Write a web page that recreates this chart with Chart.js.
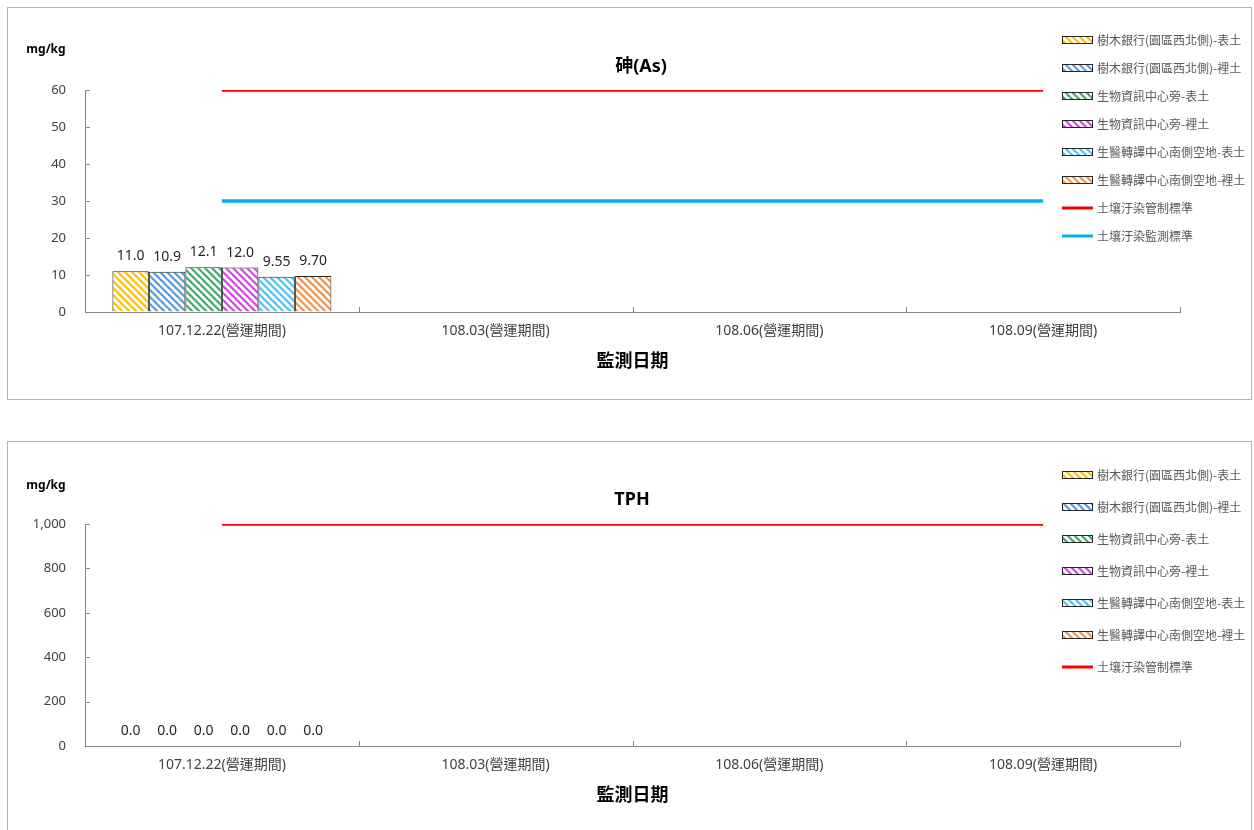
<!DOCTYPE html>
<html>
<head>
<meta charset="utf-8">
<script src="https://cdn.jsdelivr.net/npm/chart.js@4/dist/chart.umd.min.js"></script>
<style>
  html, body { margin: 0; padding: 0; background: #fff; width: 1254px; height: 830px; overflow: hidden; }
  .box { position: absolute; left: 7px; width: 1245px; height: 393px; box-sizing: border-box; border: 1px solid #b4b4b4; }
  canvas { position: absolute; left: 7px; }
</style>
</head>
<body>
<div class="box" style="top:7px"></div>
<div class="box" style="top:441px"></div>
<canvas id="c1" width="1245" height="393" style="top:7px"></canvas>
<canvas id="c2" width="1245" height="393" style="top:441px"></canvas>
<script>
// ---------- data ----------
const categories = ['107.12.22(營運期間)', '108.03(營運期間)', '108.06(營運期間)', '108.09(營運期間)'];
const seriesNames = ['樹木銀行(園區西北側)-表土', '樹木銀行(園區西北側)-裡土', '生物資訊中心旁-表土', '生物資訊中心旁-裡土', '生醫轉譯中心南側空地-表土', '生醫轉譯中心南側空地-裡土'];
const asValues = [11.0, 10.9, 12.1, 12.0, 9.55, 9.70];
const asLabels = ['11.0', '10.9', '12.1', '12.0', '9.55', '9.70'];
const tphValues = [0, 0, 0, 0, 0, 0];
const tphLabels = ['0.0', '0.0', '0.0', '0.0', '0.0', '0.0'];
const controlName = '土壤汙染管制標準';
const monitorName = '土壤汙染監測標準';
const asControl = [60, 60, 60, 60];
const asMonitor = [30, 30, 30, 30];
const tphControl = [1000, 1000, 1000, 1000];
const asYTicks = [0, 10, 20, 30, 40, 50, 60];
const tphYTicks = [0, 200, 400, 600, 800, 1000];

// ---------- styles ----------
const barColors = ['#FFC000', '#5B9BD5', '#3DAA6B', '#D048DC', '#4FC3F0', '#F0924A'];
const FONT = "'Noto Sans', 'Noto Sans CJK TC', sans-serif";
const LEGFONT = "'Noto Sans CJK TC', 'Noto Sans', sans-serif";

function stripe(color) {
  const s = 7;
  const c = document.createElement('canvas');
  c.width = s; c.height = s;
  const x = c.getContext('2d');
  x.fillStyle = '#fff'; x.fillRect(0, 0, s, s);
  x.strokeStyle = color; x.lineWidth = 2.2; x.lineCap = 'square';
  for (const k of [-s, 0, s]) {
    x.beginPath(); x.moveTo(k - 1, -1); x.lineTo(k + s + 1, s + 1); x.stroke();
  }
  return x.createPattern(c, 'repeat');
}

const chartDeco = {
  id: 'chartDeco',
  afterDraw(chart, args, o) {
    const ctx = chart.ctx;
    const ca = chart.chartArea;
    const ys = chart.scales.y;
    ctx.save();
    // inside tick marks
    ctx.strokeStyle = '#868686'; ctx.lineWidth = 1;
    ys.ticks.forEach(t => {
      const y = Math.round(ys.getPixelForValue(t.value)) + 0.5;
      ctx.beginPath(); ctx.moveTo(ca.left, y); ctx.lineTo(ca.left + 5, y); ctx.stroke();
    });
    const n = categories.length;
    for (let i = 1; i <= n; i++) {
      const x = Math.round(ca.left + (ca.right - ca.left) * i / n) + 0.5;
      ctx.beginPath(); ctx.moveTo(x, ca.bottom); ctx.lineTo(x, ca.bottom - 5); ctx.stroke();
    }
    // data labels
    ctx.fillStyle = '#262626';
    ctx.font = '14px ' + FONT;
    ctx.textAlign = 'center'; ctx.textBaseline = 'middle';
    chart.data.datasets.forEach((ds, di) => {
      if (ds.type === 'line') return;
      const meta = chart.getDatasetMeta(di);
      const el = meta.data[0];
      ctx.fillText(o.labels[di], el.x, el.y - 15);
    });
    // title
    ctx.font = 'bold 18px ' + FONT;
    ctx.fillStyle = '#000';
    ctx.fillText(o.title, o.titleX, o.titleY);
    // unit
    ctx.font = 'bold 12px ' + FONT;
    ctx.fillText('mg/kg', 39, o.unitY);
    // x title
    ctx.font = 'bold 18px ' + LEGFONT;
    ctx.fillText('監測日期', (ca.left + ca.right) / 2, 353);
    // legend
    ctx.textAlign = 'left';
    ctx.font = '12px ' + LEGFONT;
    chart.data.datasets.forEach((ds, i) => {
      const y = o.legTop + i * o.legStep;
      if (ds.type === 'line') {
        ctx.strokeStyle = ds.borderColor; ctx.lineWidth = 3;
        ctx.beginPath(); ctx.moveTo(1055, y); ctx.lineTo(1086, y); ctx.stroke();
      } else {
        ctx.fillStyle = ds.backgroundColor;
        ctx.fillRect(1055, y - 4, 31, 8);
        ctx.strokeStyle = '#262626'; ctx.lineWidth = 1;
        ctx.strokeRect(1055.5, y - 3.5, 30, 7);
      }
      ctx.fillStyle = '#595959';
      ctx.fillText(ds.label, 1090, y);
    });
    ctx.restore();
  }
};

function makeChart(id, values, labels, lines, yTicks, yMax, deco) {
  const datasets = values.map((v, i) => ({
    type: 'bar',
    label: seriesNames[i],
    data: [v, null, null, null],
    backgroundColor: stripe(barColors[i]),
    borderColor: '#262626',
    borderWidth: 1,
    categoryPercentage: 0.8,
    barPercentage: 1.0,
    order: 2
  }));
  lines.forEach(l => datasets.push({
    type: 'line',
    label: l.name,
    data: l.data,
    borderColor: l.color,
    backgroundColor: l.color,
    borderWidth: 3.5,
    pointRadius: 0,
    fill: false,
    order: 1
  }));
  return new Chart(document.getElementById(id), {
    data: { labels: categories, datasets },
    options: {
      responsive: false,
      animation: false,
      devicePixelRatio: 1,
      layout: { padding: { left: 0, top: 83, right: 72, bottom: 0 } },
      plugins: { legend: { display: false }, tooltip: { enabled: false }, chartDeco: deco },
      scales: {
        x: {
          offset: true,
          grid: { drawOnChartArea: false, drawTicks: false, offset: true },
          border: { color: '#868686', width: 1 },
          ticks: { color: '#404040', font: { size: 14, family: FONT }, padding: 11, maxRotation: 0 },
          afterFit(s) { s.height = 88; }
        },
        y: {
          min: 0, max: yMax,
          grid: { drawOnChartArea: false, drawTicks: false },
          border: { color: '#868686', width: 1 },
          ticks: { color: '#404040', font: { size: 13, family: FONT }, padding: 19 },
          afterBuildTicks(s) { s.ticks = yTicks.map(v => ({ value: v })); },
          afterFit(s) { s.width = 78; }
        }
      }
    },
    plugins: [chartDeco]
  });
}

makeChart('c1', asValues, asLabels,
  [{ name: controlName, data: asControl, color: '#FF0000' }, { name: monitorName, data: asMonitor, color: '#00B0F0' }],
  asYTicks, 60,
  { labels: asLabels, title: '砷(As)', titleX: 634, titleY: 60, unitY: 43, legTop: 33, legStep: 28 });

makeChart('c2', tphValues, tphLabels,
  [{ name: controlName, data: tphControl, color: '#FF0000' }],
  tphYTicks, 1000,
  { labels: tphLabels, title: 'TPH', titleX: 625, titleY: 59, unitY: 45, legTop: 34, legStep: 32 });
</script>
</body>
</html>
